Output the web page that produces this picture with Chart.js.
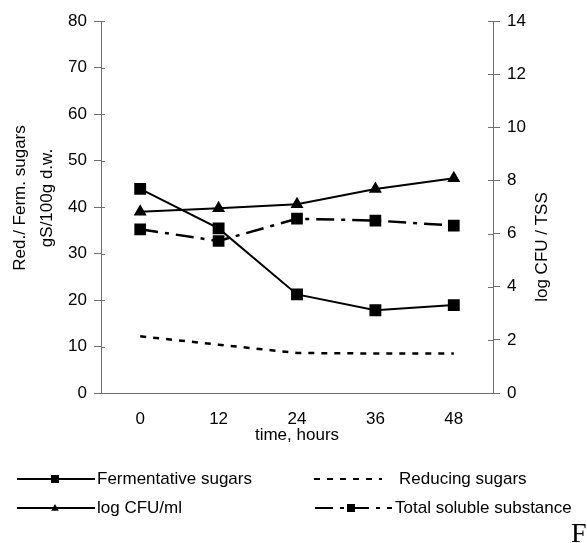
<!DOCTYPE html>
<html>
<head>
<meta charset="utf-8">
<script src="https://cdn.jsdelivr.net/npm/chart.js@4.4.0/dist/chart.umd.min.js"></script>
<style>
  html, body { margin: 0; padding: 0; background: #fff; }
  #wrap { position: relative; width: 587px; height: 543px; }
</style>
</head>
<body>
<div id="wrap"><canvas id="grafico"></canvas></div>
<script>
// dados
const categories = ['0', '12', '24', '36', '48']
const fermentativeSugars = [43.9, 35.4, 21.2, 17.8, 18.9] // eixo esquerdo
const reducingSugars = [12.2, 10.4, 8.6, 8.5, 8.5]        // eixo esquerdo
const logCfu = [6.82, 6.95, 7.1, 7.68, 8.08]              // eixo direito
const totalSoluble = [6.16, 5.72, 6.56, 6.49, 6.3]        // eixo direito
const seriesNames = ['Fermentative sugars', 'Reducing sugars', 'log CFU/ml', 'Total soluble substance']
const leftTitle = ['Red./ Ferm. sugars', 'gS/100g d.w.']
const rightTitle = 'log CFU / TSS'
const xTitle = 'time, hours'

const FONTE = '"Liberation Sans", Arial, sans-serif'
const CINZA = '#6e6e6e'

// desenha um marcador (quadrado ou triângulo) centrado em x,y
function marcador(ctx, estilo, x, y, r) {
    ctx.beginPath()
    if (estilo === 'triangle') {
        ctx.moveTo(x, y - r)
        ctx.lineTo(x + r * 0.95, y + r * 0.7)
        ctx.lineTo(x - r * 0.95, y + r * 0.7)
        ctx.closePath()
    } else {
        ctx.rect(x - r, y - r, 2 * r, 2 * r)
    }
    ctx.fill()
}

// títulos dos eixos, ticks que cruzam o eixo, legenda e o "F" do rodapé
const extras = {
    id: 'extras',
    afterDraw(chart) {
        const ctx = chart.ctx
        const area = chart.chartArea
        ctx.save()

        // pedacinho interno dos ticks
        ctx.strokeStyle = CINZA
        ctx.lineWidth = 1
        chart.scales.y.ticks.forEach((t, i) => {
            const py = Math.round(chart.scales.y.getPixelForTick(i)) + 0.5
            ctx.beginPath(); ctx.moveTo(area.left, py); ctx.lineTo(area.left + 4, py); ctx.stroke()
        })
        chart.scales.y1.ticks.forEach((t, i) => {
            const py = Math.round(chart.scales.y1.getPixelForTick(i)) + 0.5
            ctx.beginPath(); ctx.moveTo(area.right - 5, py); ctx.lineTo(area.right, py); ctx.stroke()
        })

        // títulos verticais
        ctx.fillStyle = '#000'
        ctx.font = '17px ' + FONTE
        ctx.textAlign = 'center'
        ctx.textBaseline = 'alphabetic'
        ctx.save()
        ctx.translate(25, 198)
        ctx.rotate(-Math.PI / 2)
        ctx.fillText(leftTitle[0], 0, 0)
        ctx.fillText(leftTitle[1], 0, 27)
        ctx.restore()
        ctx.save()
        ctx.translate(547, 247)
        ctx.rotate(-Math.PI / 2)
        ctx.fillText(rightTitle, 0, 0)
        ctx.restore()

        // legenda
        const ds = chart.data.datasets
        const itens = [
            { d: ds[0], x1: 17, x2: 95, xm: 55, xt: 97, y: 479 },
            { d: ds[1], x1: 314, x2: 382, xm: null, xt: 399, y: 479 },
            { d: ds[2], x1: 17, x2: 95, xm: 55, xt: 97, y: 508 },
            { d: ds[3], x1: 315, x2: 392, xm: 351, xt: 395, y: 508 }
        ]
        itens.forEach(it => {
            ctx.strokeStyle = '#000'
            ctx.fillStyle = '#000'
            ctx.lineWidth = 2
            ctx.setLineDash(it.d.borderDash || [])
            ctx.beginPath(); ctx.moveTo(it.x1, it.y); ctx.lineTo(it.x2, it.y); ctx.stroke()
            ctx.setLineDash([])
            if (it.xm !== null) marcador(ctx, it.d.pointStyle, it.xm, it.y, 4)
            ctx.save()
            ctx.beginPath(); ctx.rect(0, 0, 573, 543); ctx.clip()
            ctx.textAlign = 'left'
            ctx.textBaseline = 'alphabetic'
            ctx.font = '17px ' + FONTE
            ctx.fillText(it.d.label, it.xt, it.y + 4.5)
            ctx.restore()
        })

        // letra cortada no canto
        ctx.font = '28px "Liberation Serif", "Times New Roman", serif'
        ctx.textAlign = 'left'
        ctx.fillText('F', 571, 542)
        ctx.restore()
    }
}

const ctx = document.getElementById('grafico').getContext('2d')
new Chart(ctx, {
    type: 'line',
    data: {
        labels: categories,
        datasets: [{
            label: seriesNames[0],
            data: fermentativeSugars,
            yAxisID: 'y',
            borderColor: '#000',
            backgroundColor: '#000',
            borderWidth: 2,
            pointStyle: 'rect',
            pointRadius: 7,
            tension: 0
        }, {
            label: seriesNames[1],
            data: reducingSugars,
            yAxisID: 'y',
            borderColor: '#000',
            backgroundColor: '#000',
            borderWidth: 2.5,
            borderDash: [6, 7],
            pointRadius: 0,
            tension: 0
        }, {
            label: seriesNames[2],
            data: logCfu,
            yAxisID: 'y1',
            borderColor: '#000',
            backgroundColor: '#000',
            borderWidth: 2,
            pointStyle: 'triangle',
            pointRadius: 5.5,
            tension: 0
        }, {
            label: seriesNames[3],
            data: totalSoluble,
            yAxisID: 'y1',
            borderColor: '#000',
            backgroundColor: '#000',
            borderWidth: 2.5,
            borderDash: [18, 7, 4, 7],
            pointStyle: 'rect',
            pointRadius: 6.5,
            tension: 0
        }]
    },
    options: {
        responsive: true,
        maintainAspectRatio: false,
        animation: false,
        layout: { padding: { top: 21, bottom: 97, left: 0, right: 0 } },
        plugins: {
            legend: { display: false },
            tooltip: { enabled: false }
        },
        scales: {
            x: {
                offset: true,
                grid: { display: false, drawTicks: false },
                border: { color: CINZA, width: 1 },
                ticks: { color: '#000', font: { size: 17, family: FONTE }, padding: 16 },
                title: { display: true, text: xTitle, color: '#000', font: { size: 17, family: FONTE }, padding: 0 },
                afterFit: s => { s.height = 53 }
            },
            y: {
                position: 'left',
                min: 0, max: 80,
                ticks: { stepSize: 10, color: '#000', font: { size: 17, family: FONTE }, padding: 7 },
                grid: { drawOnChartArea: false, tickLength: 7, color: CINZA },
                border: { color: CINZA, width: 1 },
                afterFit: s => { s.width = 101 }
            },
            y1: {
                position: 'right',
                min: 0, max: 14,
                ticks: { stepSize: 2, color: '#000', font: { size: 17, family: FONTE }, padding: 7 },
                grid: { drawOnChartArea: false, tickLength: 7, color: CINZA },
                border: { color: CINZA, width: 1 },
                afterFit: s => { s.width = 94 }
            }
        }
    },
    plugins: [extras]
})
</script>
</body>
</html>
